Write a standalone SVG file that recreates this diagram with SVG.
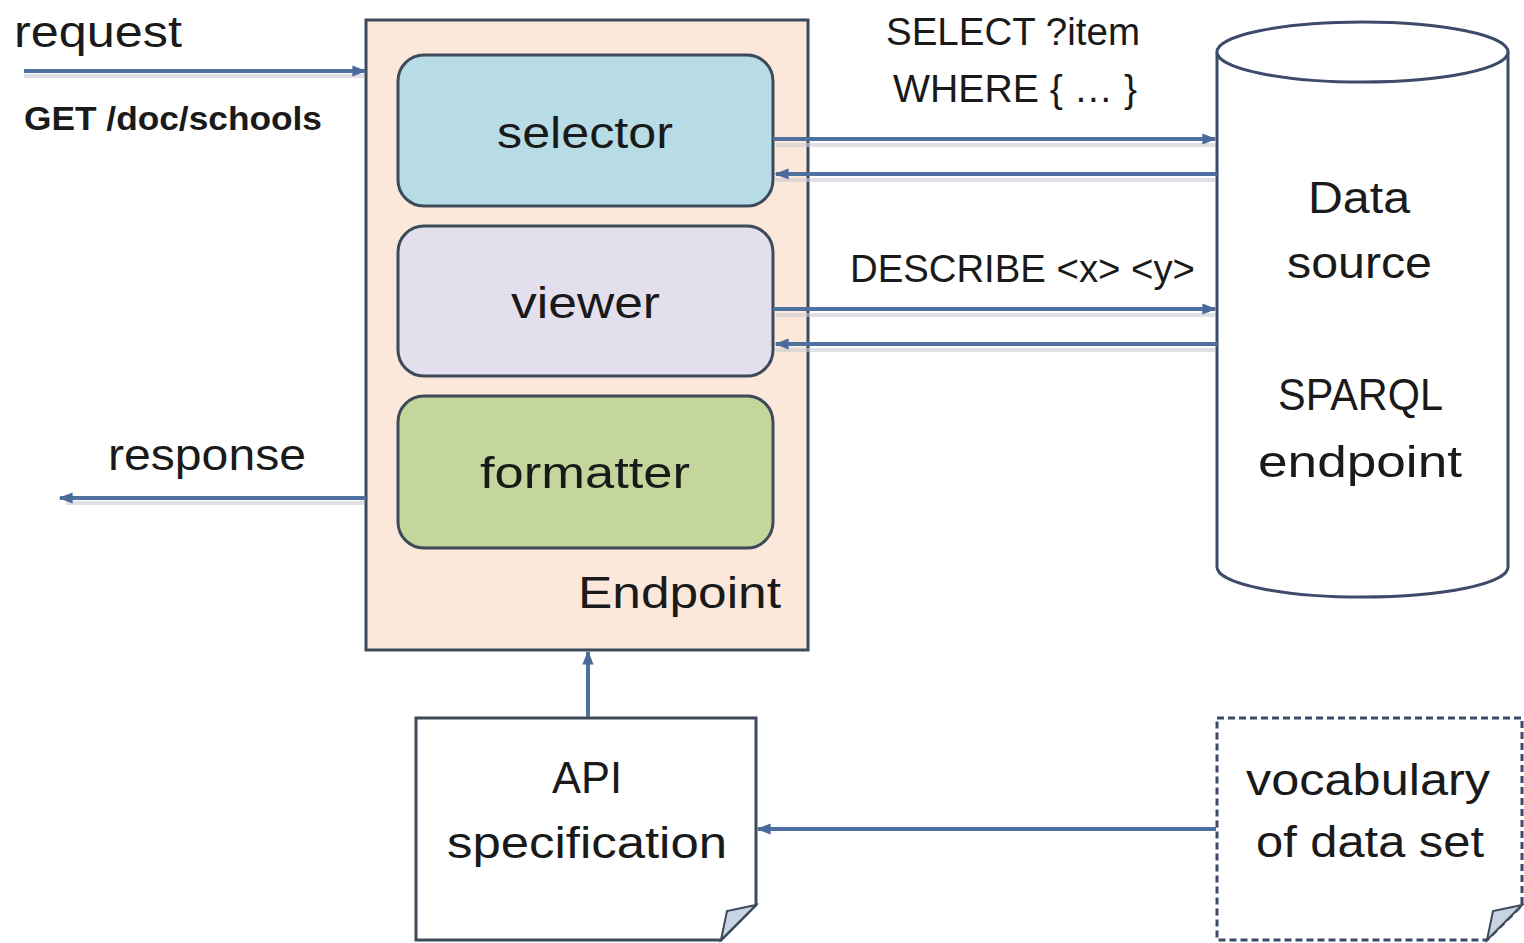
<svg xmlns="http://www.w3.org/2000/svg" width="1524" height="943" viewBox="0 0 1524 943">
<style>
text{font-family:"Liberation Sans",Arial,sans-serif;fill:#1a1a1a;}
.lbl{font-size:44px;}
.sm{font-size:38px;}
.conn{stroke:#4f71a0;stroke-width:4;fill:none;}
.shadow{stroke:#c8ccd4;stroke-width:4;fill:none;opacity:0.6;}
.box{stroke:#3d4a5a;stroke-width:3;}
</style>
<defs>
<marker id="ah" viewBox="0 0 10 10" refX="9" refY="5" markerWidth="3.5" markerHeight="3.5" orient="auto-start-reverse" markerUnits="strokeWidth">
<path d="M0,1 L10,5 L0,9 z" fill="#4a6a9a"/>
</marker>
</defs>
<g id="endpoint">
<rect x="366" y="20" width="442" height="630" fill="#fce8da" class="box"/>
<text class="lbl" x="578" y="608" textLength="203" lengthAdjust="spacingAndGlyphs">Endpoint</text>
</g>
<g id="selector">
<rect x="398" y="55" width="375" height="151" rx="26" fill="#b7dce6" class="box"/>
<text class="lbl" x="497" y="148" textLength="176" lengthAdjust="spacingAndGlyphs">selector</text>
</g>
<g id="viewer">
<rect x="398" y="226" width="375" height="150" rx="26" fill="#e3dfec" class="box"/>
<text class="lbl" x="511" y="318" textLength="149" lengthAdjust="spacingAndGlyphs">viewer</text>
</g>
<g id="formatter">
<rect x="398" y="396" width="375" height="152" rx="26" fill="#c4d69b" class="box"/>
<text class="lbl" x="480" y="488" textLength="210" lengthAdjust="spacingAndGlyphs">formatter</text>
</g>
<g id="datasource">
<path d="M1217,52 L1217,567 A145.5,30 0 0 0 1508,567 L1508,52" fill="#ffffff" stroke="#3d4a6a" stroke-width="3"/>
<ellipse cx="1362.5" cy="52" rx="145.5" ry="30" fill="#ffffff" stroke="#3d4a6a" stroke-width="3"/>
<text class="lbl" x="1308" y="213" textLength="102" lengthAdjust="spacingAndGlyphs">Data</text>
<text class="lbl" x="1287" y="278" textLength="145" lengthAdjust="spacingAndGlyphs">source</text>
<text class="lbl" x="1278" y="410" textLength="165" lengthAdjust="spacingAndGlyphs">SPARQL</text>
<text class="lbl" x="1258" y="477" textLength="204" lengthAdjust="spacingAndGlyphs">endpoint</text>
</g>
<g id="apispec">
<path d="M416,718 L756,718 L756,905 L721,940 L416,940 Z" fill="#ffffff" class="box"/>
<path d="M721,940 L727,911 L756,905 Z" fill="#c9d3e3" stroke="#3d4a5a" stroke-width="2"/>
<text class="lbl" x="552" y="793" textLength="70" lengthAdjust="spacingAndGlyphs">API</text>
<text class="lbl" x="447" y="858" textLength="280" lengthAdjust="spacingAndGlyphs">specification</text>
</g>
<g id="vocabulary">
<path d="M1217,718 L1522,718 L1522,905 L1487,940 L1217,940 Z" fill="#ffffff" stroke="#3d4a6a" stroke-width="3" stroke-dasharray="7,4"/>
<path d="M1487,940 L1493,911 L1522,905 Z" fill="#c9d3e3" stroke="#3d4a5a" stroke-width="2"/>
<text class="lbl" x="1246" y="795" textLength="244" lengthAdjust="spacingAndGlyphs">vocabulary</text>
<text class="lbl" x="1256" y="857" textLength="228" lengthAdjust="spacingAndGlyphs">of data set</text>
</g>
<g id="labels">
<text class="lbl" x="14" y="47" textLength="168" lengthAdjust="spacingAndGlyphs">request</text>
<text class="sm" x="24" y="130" textLength="298" lengthAdjust="spacingAndGlyphs" style="font-weight:bold;font-size:34px">GET /doc/schools</text>
<text class="lbl" x="108" y="470" textLength="198" lengthAdjust="spacingAndGlyphs">response</text>
<text class="sm" x="886" y="45" textLength="254" lengthAdjust="spacingAndGlyphs">SELECT ?item</text>
<text class="sm" x="893" y="102" textLength="244" lengthAdjust="spacingAndGlyphs">WHERE { … }</text>
<text class="sm" x="850" y="282" textLength="345" lengthAdjust="spacingAndGlyphs">DESCRIBE &lt;x&gt; &lt;y&gt;</text>
</g>
<g id="connectors">
<line class="shadow" x1="24" y1="76" x2="364" y2="76"/>
<line class="shadow" x1="776" y1="145" x2="1215" y2="145"/>
<line class="shadow" x1="776" y1="180" x2="1215" y2="180"/>
<line class="shadow" x1="776" y1="315" x2="1215" y2="315"/>
<line class="shadow" x1="776" y1="350" x2="1215" y2="350"/>
<line class="shadow" x1="66" y1="503" x2="364" y2="503"/>
<line class="conn" x1="24" y1="71" x2="365" y2="71" marker-end="url(#ah)"/>
<line class="conn" x1="773" y1="139" x2="1215" y2="139" marker-end="url(#ah)"/>
<line class="conn" x1="1217" y1="174" x2="776" y2="174" marker-end="url(#ah)"/>
<line class="conn" x1="773" y1="309" x2="1215" y2="309" marker-end="url(#ah)"/>
<line class="conn" x1="1217" y1="344" x2="776" y2="344" marker-end="url(#ah)"/>
<line class="conn" x1="366" y1="498" x2="60" y2="498" marker-end="url(#ah)"/>
<line class="conn" x1="588" y1="717" x2="588" y2="652" marker-end="url(#ah)"/>
<line class="conn" x1="1216" y1="829" x2="758" y2="829" marker-end="url(#ah)"/>
</g>
</svg>
